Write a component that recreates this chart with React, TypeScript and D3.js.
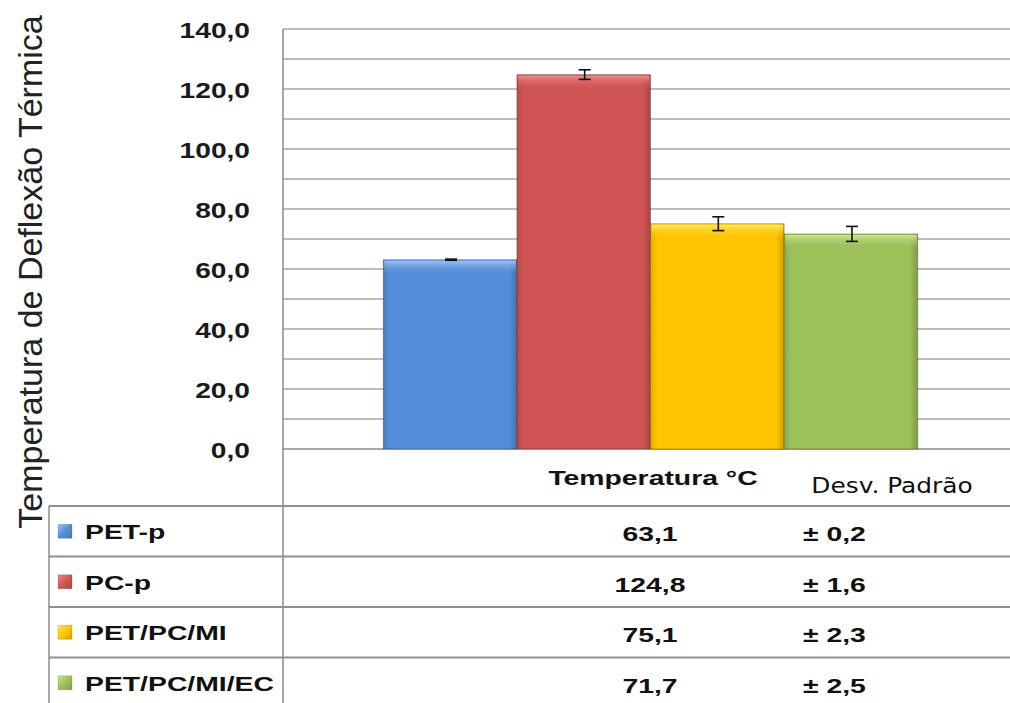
import React from "react";
import * as d3 from "d3";

const categories = ["PET-p", "PC-p", "PET/PC/MI", "PET/PC/MI/EC"];
const temperatures = [63.1, 124.8, 75.1, 71.7];
const deviations = [0.2, 1.6, 2.3, 2.5];
const yTickLabels = [0, 20, 40, 60, 80, 100, 120, 140];
const gridValues = d3.range(0, 141, 10);
const columnHeaders = ["Temperatura °C", "Desv. Padrão"];
const yTitle = "Temperatura de Deflexão Térmica";
const palette = ["#558ED8", "#D05453", "#FFC400", "#9DC05A"];
const highlights = ["#9CC4F4", "#F08C8A", "#FFEA60", "#CDE596"];

const W = 1010;
const H = 703;
const plotLeft = 283;
const plotRight = 1018;
const plotTop = 29;
const zeroY = 449;
const tableLeft = 49;
const rowLines = [506, 556.5, 607, 657.5];
const rowH = 50.5;

const locale = d3.formatLocale({ decimal: ",", thousands: ".", grouping: [3], currency: ["", ""] });
const fmt = locale.format(".1f");

export default function App() {
  const y = d3.scaleLinear().domain([0, 140]).range([zeroY, plotTop]);
  const x = d3
    .scaleBand<string>()
    .domain(categories)
    .range([plotLeft, plotRight])
    .paddingInner(0)
    .paddingOuter(0.75);
  const bw = x.bandwidth();
  const sx = 1.35;
  const tableFont = "'Liberation Sans', Arial, sans-serif";

  return (
    <div style={{ position: "absolute", left: 0, top: 0 }}>
      <svg width={W} height={H} style={{ display: "block", background: "#fff" }}>
        <defs>
          {palette.map((c, i) => (
            <linearGradient key={"g" + i} id={"side" + i} x1="0" x2="1" y1="0" y2="0">
              <stop offset="0" stopColor={d3.color(c)!.darker(0.35).toString()} />
              <stop offset="0.05" stopColor={c} />
              <stop offset="0.94" stopColor={c} />
              <stop offset="1" stopColor={d3.color(c)!.darker(0.6).toString()} />
            </linearGradient>
          ))}
          {palette.map((c, i) => (
            <linearGradient key={"t" + i} id={"top" + i} x1="0" x2="0" y1="0" y2="1">
              <stop offset="0" stopColor={highlights[i]} />
              <stop offset="1" stopColor={c} stopOpacity={0} />
            </linearGradient>
          ))}
          {palette.map((c, i) => (
            <linearGradient key={"l" + i} id={"leg" + i} x1="0" x2="1" y1="0" y2="1">
              <stop offset="0" stopColor={highlights[i]} />
              <stop offset="0.5" stopColor={c} />
              <stop offset="1" stopColor={d3.color(c)!.darker(0.5).toString()} />
            </linearGradient>
          ))}
        </defs>

        {/* gridlines */}
        {gridValues.map((v) => (
          <line
            key={"gr" + v}
            x1={plotLeft}
            x2={W}
            y1={y(v)}
            y2={y(v)}
            stroke={v === 0 ? "#8a8a8a" : "#bdbdbd"}
            strokeWidth={v === 0 ? 1.5 : 2}
          />
        ))}

        {/* bars */}
        {categories.map((c, i) => {
          const x0 = x(c)!;
          const top = y(temperatures[i]);
          const h = zeroY - top;
          return (
            <g key={"bar" + i}>
              <rect x={x0} y={top} width={bw} height={h} fill={`url(#side${i})`} stroke="rgba(0,0,0,0.25)" strokeWidth={1} />
              <rect x={x0 + 1} y={top + 1} width={bw - 2} height={Math.min(14, h)} fill={`url(#top${i})`} />
            </g>
          );
        })}

        {/* error bars */}
        {categories.map((c, i) => {
          const cx = x(c)! + bw / 2 + 1;
          const hi = y(temperatures[i] + deviations[i]);
          const lo = y(temperatures[i] - deviations[i]);
          return (
            <g key={"err" + i} stroke="#111" strokeWidth={1.6}>
              <line x1={cx} x2={cx} y1={hi} y2={lo} />
              <line x1={cx - 6} x2={cx + 6} y1={hi} y2={hi} />
              <line x1={cx - 6} x2={cx + 6} y1={lo} y2={lo} />
            </g>
          );
        })}

        {/* vertical axis line */}
        <line x1={plotLeft} x2={plotLeft} y1={plotTop} y2={H} stroke="#7a7a7a" strokeWidth={1.3} />

        {/* y tick labels */}
        {yTickLabels.map((v) => (
          <text
            key={"tl" + v}
            transform={`translate(250,${y(v) + 9}) scale(1.28,1)`}
            textAnchor="end"
            fontFamily="'Liberation Sans', Arial, sans-serif"
            fontWeight="bold"
            fontSize={22}
            fill="#1a1a1a"
          >
            {fmt(v)}
          </text>
        ))}

        {/* y title */}
        <text
          transform={`translate(42,272) rotate(-90)`}
          textAnchor="middle"
          fontFamily="'Liberation Sans', Arial, sans-serif"
          fontSize={34}
          fill="#222"
        >
          {yTitle}
        </text>

        {/* table lines */}
        {rowLines.map((ly, i) => (
          <line key={"rl" + i} x1={tableLeft} x2={W} y1={ly} y2={ly} stroke="#8f8f8f" strokeWidth={2} />
        ))}
        <line x1={tableLeft} x2={tableLeft} y1={rowLines[0]} y2={H} stroke="#7a7a7a" strokeWidth={1.3} />

        {/* headers */}
        <text
          transform={`translate(653,485) scale(${sx},1)`}
          textAnchor="middle"
          fontFamily={tableFont}
          fontWeight="bold"
          fontSize={21}
          fill="#111"
        >
          {columnHeaders[0]}
        </text>
        <text
          transform={`translate(892,493) scale(1.13,1)`}
          textAnchor="middle"
          fontFamily="'DejaVu Sans', Verdana, sans-serif"
          fontSize={22}
          fill="#111"
        >
          {columnHeaders[1]}
        </text>

        {/* rows */}
        {categories.map((c, i) => {
          const cy = rowLines[0] + rowH * i + rowH / 2;
          return (
            <g key={"row" + i}>
              <rect x={58} y={cy - 7} width={14} height={14} fill={`url(#leg${i})`} stroke="rgba(0,0,0,0.15)" />
              <text
                transform={`translate(85,${cy + 8}) scale(${sx},1)`}
                fontFamily={tableFont}
                fontWeight="bold"
                fontSize={21}
                fill="#111"
              >
                {c}
              </text>
              <text
                transform={`translate(650,${cy + 10}) scale(${sx},1)`}
                textAnchor="middle"
                fontFamily={tableFont}
                fontWeight="bold"
                fontSize={21}
                fill="#111"
              >
                {fmt(temperatures[i])}
              </text>
              <text
                transform={`translate(803,${cy + 10}) scale(${sx},1)`}
                fontFamily={tableFont}
                fontWeight="bold"
                fontSize={21}
                fill="#111"
              >
                {"± " + fmt(deviations[i])}
              </text>
            </g>
          );
        })}
      </svg>
    </div>
  );
}
